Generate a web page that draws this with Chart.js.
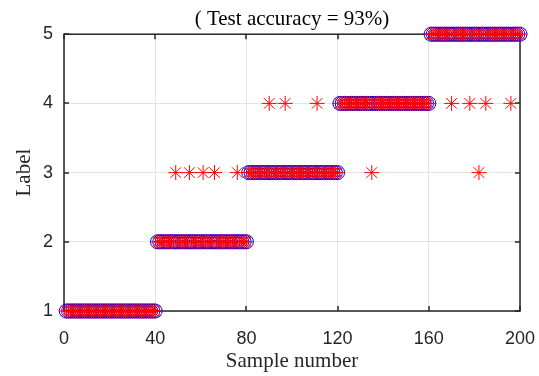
<!DOCTYPE html>
<html lang="en">
<head>
<meta charset="UTF-8">
<title>Test accuracy</title>
<script src="https://cdn.jsdelivr.net/npm/chart.js@4"></script>
<style>
body{margin:0;background:#fff}
#wrap{width:539px;height:376px;position:relative}
</style>
</head>
<body>
<div id="wrap"><canvas id="chart"></canvas></div>
<script>
// true class of each test sample (samples 1..200)
const trueLabel=[
  1,1,1,1,1,1,1,1,1,1,1,1,1,1,1,1,1,1,1,1,
  1,1,1,1,1,1,1,1,1,1,1,1,1,1,1,1,1,1,1,1,
  2,2,2,2,2,2,2,2,2,2,2,2,2,2,2,2,2,2,2,2,
  2,2,2,2,2,2,2,2,2,2,2,2,2,2,2,2,2,2,2,2,
  3,3,3,3,3,3,3,3,3,3,3,3,3,3,3,3,3,3,3,3,
  3,3,3,3,3,3,3,3,3,3,3,3,3,3,3,3,3,3,3,3,
  4,4,4,4,4,4,4,4,4,4,4,4,4,4,4,4,4,4,4,4,
  4,4,4,4,4,4,4,4,4,4,4,4,4,4,4,4,4,4,4,4,
  5,5,5,5,5,5,5,5,5,5,5,5,5,5,5,5,5,5,5,5,
  5,5,5,5,5,5,5,5,5,5,5,5,5,5,5,5,5,5,5,5
];
// predicted class (14 errors -> 93%)
const predLabel=[
  1,1,1,1,1,1,1,1,1,1,1,1,1,1,1,1,1,1,1,1,
  1,1,1,1,1,1,1,1,1,1,1,1,1,1,1,1,1,1,1,1,
  2,2,2,2,2,2,2,2,3,2,2,2,2,2,3,2,2,2,2,2,
  3,2,2,2,2,3,2,2,2,2,2,2,2,2,2,3,2,2,2,2,
  3,3,3,3,3,3,3,3,3,4,3,3,3,3,3,3,4,3,3,3,
  3,3,3,3,3,3,3,3,3,3,4,3,3,3,3,3,3,3,3,3,
  4,4,4,4,4,4,4,4,4,4,4,4,4,4,3,4,4,4,4,4,
  4,4,4,4,4,4,4,4,4,4,4,4,4,4,4,4,4,4,4,4,
  5,5,5,5,5,5,5,5,5,4,5,5,5,5,5,5,5,4,5,5,
  5,3,5,5,4,5,5,5,5,5,5,5,5,5,5,4,5,5,5,5
];
const xTicks=[0,40,80,120,160,200];
const yTicks=[1,2,3,4,5];
const titleText="( Test accuracy = 93%)";
const xTitle="Sample number";
const yTitle="Label";

const SERIF='"Times New Roman","Liberation Serif",serif';
const SANS='Helvetica,Arial,"Liberation Sans",sans-serif';
const AX='#262626';

const toPts=arr=>arr.map((v,i)=>({x:i+1,y:v}));

// box + inward ticks, under the markers like matlab
const frame={
  id:'frame',
  afterLayout(chart){
    // center the title over the plot box, not the canvas
    const t=chart.titleBlock,a=chart.chartArea;
    if(t){t.left=a.left;t.right=a.right;t.width=a.right-a.left;}
  },
  beforeDatasetsDraw(chart){
    const {ctx,chartArea:a,scales:{x,y}}=chart;
    ctx.save();
    ctx.strokeStyle=AX;ctx.lineWidth=1.5;
    ctx.strokeRect(a.left,a.top,a.right-a.left,a.bottom-a.top);
    ctx.beginPath();
    xTicks.forEach(v=>{
      const px=Math.round(x.getPixelForValue(v));
      ctx.moveTo(px,a.bottom);ctx.lineTo(px,a.bottom-5);
      ctx.moveTo(px,a.top);ctx.lineTo(px,a.top+5);
    });
    yTicks.forEach(v=>{
      const py=Math.round(y.getPixelForValue(v));
      ctx.moveTo(a.left,py);ctx.lineTo(a.left+5,py);
      ctx.moveTo(a.right,py);ctx.lineTo(a.right-5,py);
    });
    ctx.stroke();
    ctx.restore();
  }
};

new Chart(document.getElementById('chart'),{
  type:'scatter',
  data:{datasets:[
    {label:'predicted',data:toPts(predLabel),pointStyle:'star',pointRadius:7.5,
     borderColor:'#ff0000',backgroundColor:'#ff0000',pointBorderWidth:1,clip:false,order:0},
    {label:'true',data:toPts(trueLabel),pointStyle:'circle',pointRadius:7,
     borderColor:'#0000ff',backgroundColor:'rgba(0,0,0,0)',pointBorderWidth:1,clip:false,order:1}
  ]},
  options:{
    responsive:true,maintainAspectRatio:false,animation:false,events:[],
    layout:{padding:{left:0,right:19,top:0,bottom:0}},
    plugins:{
      legend:{display:false},tooltip:{enabled:false},
      title:{display:true,text:titleText,color:'#000',
        font:{family:SERIF,size:21,weight:'normal'},padding:{top:7,bottom:2}}
    },
    scales:{
      x:{type:'linear',min:0,max:200,
        afterBuildTicks:s=>{s.ticks=xTicks.map(v=>({value:v}));},
        afterFit:s=>{s.height=65;s.paddingLeft=0;s.paddingRight=0;},
        grid:{color:'#e3e3e3',drawTicks:false},border:{display:false},
        ticks:{color:AX,font:{family:SANS,size:18},padding:17,maxRotation:0},
        title:{display:true,text:xTitle,color:AX,font:{family:SERIF,size:21},padding:{top:0,bottom:2}}
      },
      y:{type:'linear',min:1,max:5,
        afterBuildTicks:s=>{s.ticks=yTicks.map(v=>({value:v}));},
        afterFit:s=>{s.width=64;s.paddingTop=0;s.paddingBottom=0;},
        grid:{color:'#e3e3e3',drawTicks:false},border:{display:false},
        ticks:{color:AX,font:{family:SANS,size:18},padding:11},
        title:{display:true,text:yTitle,color:AX,font:{family:SERIF,size:21},padding:{top:12,bottom:0}}
      }
    }
  },
  plugins:[frame]
});
</script>
</body>
</html>
